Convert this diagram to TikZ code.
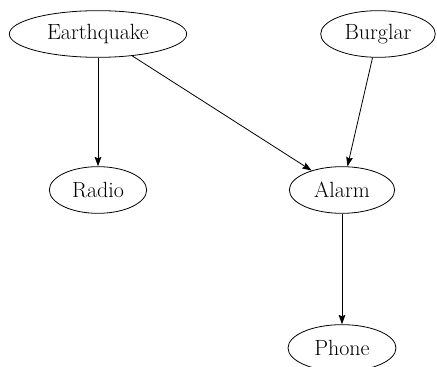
\documentclass[tikz,border=0pt]{standalone}
\usetikzlibrary{arrows.meta,shapes.geometric}
\tikzset{
  var/.style={draw, ellipse, line width=0.6pt, inner sep=0pt,
    minimum height=35pt, font=\fontsize{16.5}{19}\selectfont},
  dep/.style={-{Stealth[length=7pt,width=5pt,inset=1pt]}, line width=0.6pt},
}

\begin{document}
\begin{tikzpicture}[x=1pt, y=1pt]
    \useasboundingbox (0,0) rectangle (327.75,-275.25);
    \node[var, minimum width=133pt] (quake)  at (73.5,-25.5)  {Earthquake};
    \node[var, minimum width=86pt]  (burg)   at (283.5,-25.5) {Burglar};
    \node[var, minimum width=73pt]  (radio)  at (73.5,-142.5) {Radio};
    \node[var, minimum width=79pt]  (alarm)  at (256.5,-142.5) {Alarm};
    \node[var, minimum width=81pt]  (phone)  at (256.5,-261)  {Phone};
    \draw[dep] (quake) -- (radio);
    \draw[dep] (quake) -- (alarm);
    \draw[dep] (burg)  -- (alarm);
    \draw[dep] (alarm) -- (phone);
\end{tikzpicture}
\end{document}
